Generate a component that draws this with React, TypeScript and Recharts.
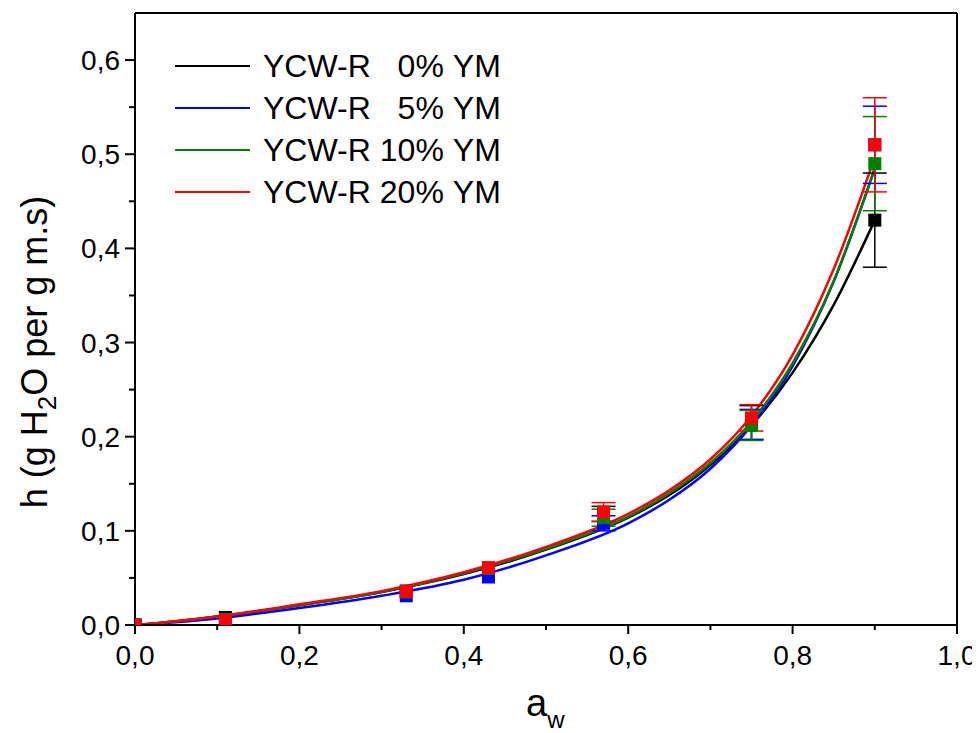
import React from "react";
import {
  ComposedChart,
  Line,
  Scatter,
  ErrorBar,
  XAxis,
  YAxis,
  Legend,
  Label,
  ReferenceLine,
} from "recharts";

const FONT = "'Liberation Sans', Arial, sans-serif";

// fitted curves
const curveX = [0, 0.05, 0.1, 0.2, 0.3, 0.4, 0.5, 0.6, 0.65, 0.7, 0.75, 0.8, 0.85, 0.9];
const curve0 = [0, 0.004, 0.009, 0.021, 0.035, 0.054, 0.08, 0.114, 0.138, 0.17, 0.212, 0.268, 0.34, 0.43];
const curve5 = [0, 0.003, 0.007, 0.018, 0.031, 0.048, 0.074, 0.108, 0.133, 0.166, 0.212, 0.275, 0.365, 0.485];
const curve10 = [0, 0.004, 0.009, 0.021, 0.035, 0.055, 0.081, 0.115, 0.14, 0.172, 0.216, 0.278, 0.365, 0.485];
const curve20 = [0, 0.004, 0.009, 0.022, 0.036, 0.056, 0.083, 0.118, 0.143, 0.176, 0.222, 0.287, 0.378, 0.497];

// measured points
const aw = [0, 0.11, 0.33, 0.43, 0.57, 0.75, 0.9];
const h0 = [0, 0.008, 0.036, 0.06, 0.118, 0.215, 0.43];
const h5 = [0, 0.005, 0.031, 0.051, 0.108, 0.213, 0.51];
const h10 = [0, 0.006, 0.035, 0.06, 0.114, 0.212, 0.49];
const h20 = [0, 0.005, 0.036, 0.061, 0.12, 0.22, 0.51];
const err0 = [0, 0, 0, 0, 0.008, 0.018, 0.05];
const err5 = [0, 0, 0, 0, 0.008, 0.016, 0.041];
const err10 = [0, 0, 0, 0, 0.009, 0.016, 0.05];
const err20 = [0, 0, 0, 0, 0.01, 0.014, 0.05];

const xTicks = [0, 0.1, 0.2, 0.3, 0.4, 0.5, 0.6, 0.7, 0.8, 0.9, 1];
const yTicks = [0, 0.05, 0.1, 0.15, 0.2, 0.25, 0.3, 0.35, 0.4, 0.45, 0.5, 0.55, 0.6];

const series = [
  { name: "YCW-R", pct: "0%", color: "#000000", curve: curve0, h: h0, err: err0 },
  { name: "YCW-R", pct: "5%", color: "#0000ff", curve: curve5, h: h5, err: err5 },
  { name: "YCW-R", pct: "10%", color: "#008000", curve: curve10, h: h10, err: err10 },
  { name: "YCW-R", pct: "20%", color: "#ff0000", curve: curve20, h: h20, err: err20 },
];

const fmt = (v: number) => v.toFixed(1).replace(".", ",");

function XTick(props: any) {
  const { x, y, payload } = props;
  const major = Math.round(payload.value * 10) % 2 === 0;
  return (
    <g>
      <line x1={x} x2={x} y1={y} y2={y + (major ? 9 : 5)} stroke="#000" strokeWidth={2} />
      {major && (
        <text x={x} y={y + 40} textAnchor="middle" fontSize={28} fontFamily={FONT} fill="#000">
          {fmt(payload.value)}
        </text>
      )}
    </g>
  );
}

function YTick(props: any) {
  const { x, y, payload } = props;
  const major = Math.round(payload.value * 100) % 10 === 0;
  return (
    <g>
      <line x1={x} x2={x - (major ? 10 : 6)} y1={y} y2={y} stroke="#000" strokeWidth={2} />
      {major && (
        <text x={x - 15} y={y + 10} textAnchor="end" fontSize={28} fontFamily={FONT} fill="#000">
          {fmt(payload.value)}
        </text>
      )}
    </g>
  );
}

function Square(props: any) {
  const { cx, cy, fill } = props;
  if (cx == null || cy == null) return null;
  return <rect x={cx - 6.5} y={cy - 6.5} width={13} height={13} fill={fill} />;
}

function LegendBox() {
  return (
    <div style={{ fontFamily: FONT, fontSize: 32, color: "#000" }}>
      {series.map((s, i) => (
        <div key={i} style={{ display: "flex", alignItems: "center", height: 42, whiteSpace: "nowrap" }}>
          <span style={{ display: "inline-block", width: 75, height: 2, background: s.color, marginRight: 13 }} />
          <span>{s.name}</span>
          <span style={{ display: "inline-block", width: 73, textAlign: "right" }}>{s.pct}</span>
          <span style={{ marginLeft: 9 }}>YM</span>
        </div>
      ))}
    </div>
  );
}

export default function App() {
  return (
    <ComposedChart
      width={972}
      height={725}
      margin={{ top: 5, right: 23, left: 0, bottom: 0 }}
    >
      <XAxis
        dataKey="x"
        type="number"
        domain={[0, 1]}
        ticks={xTicks}
        interval={0}
        tick={<XTick />}
        tickLine={false}
        tickSize={0}
        tickMargin={0}
        height={108}
        stroke="#000"
        strokeWidth={2}
        allowDataOverflow
      >
        <Label
          content={() => (
            <text x={518} y={708} fontFamily={FONT} fontSize={38} fill="#000">
              a
              <tspan dy={12} fontSize={24}>w</tspan>
            </text>
          )}
        />
      </XAxis>
      <YAxis
        type="number"
        domain={[0, 0.65]}
        ticks={yTicks}
        interval={0}
        tick={<YTick />}
        tickLine={false}
        tickSize={0}
        tickMargin={0}
        width={127}
        stroke="#000"
        strokeWidth={2}
        allowDataOverflow
      >
        <Label
          content={() => (
            <text
              x={39}
              y={344}
              transform="rotate(-90, 39, 344)"
              textAnchor="middle"
              fontFamily={FONT}
              fontSize={36}
              fill="#000"
            >
              h (g H<tspan dy={9} fontSize={26}>2</tspan>
              <tspan dy={-9}>O per g m.s)</tspan>
            </text>
          )}
        />
      </YAxis>
      <ReferenceLine y={0.65} stroke="#000" strokeWidth={2} ifOverflow="visible" />
      <ReferenceLine x={1} stroke="#000" strokeWidth={2} ifOverflow="visible" />
      <Legend
        layout="vertical"
        align="center"
        verticalAlign="middle"
        wrapperStyle={{ top: 37, left: 167, width: "auto" }}
        content={() => <LegendBox />}
      />
      {series.map((s) => (
        <Line
          key={"l" + s.pct}
          data={curveX.map((x, i) => ({ x, y: s.curve[i] }))}
          dataKey="y"
          type="monotone"
          stroke={s.color}
          strokeWidth={2.5}
          dot={false}
          activeDot={false}
          isAnimationActive={false}
          legendType="none"
        />
      ))}
      {series.map((s) => (
        <Scatter
          key={"p" + s.pct}
          data={aw.map((x, i) => ({ x, y: s.h[i], err: s.err[i] }))}
          dataKey="y"
          fill={s.color}
          shape={<Square />}
          isAnimationActive={false}
          legendType="none"
        >
          <ErrorBar dataKey="err" direction="y" width={12} stroke={s.color} strokeWidth={1.5} />
        </Scatter>
      ))}
    </ComposedChart>
  );
}
